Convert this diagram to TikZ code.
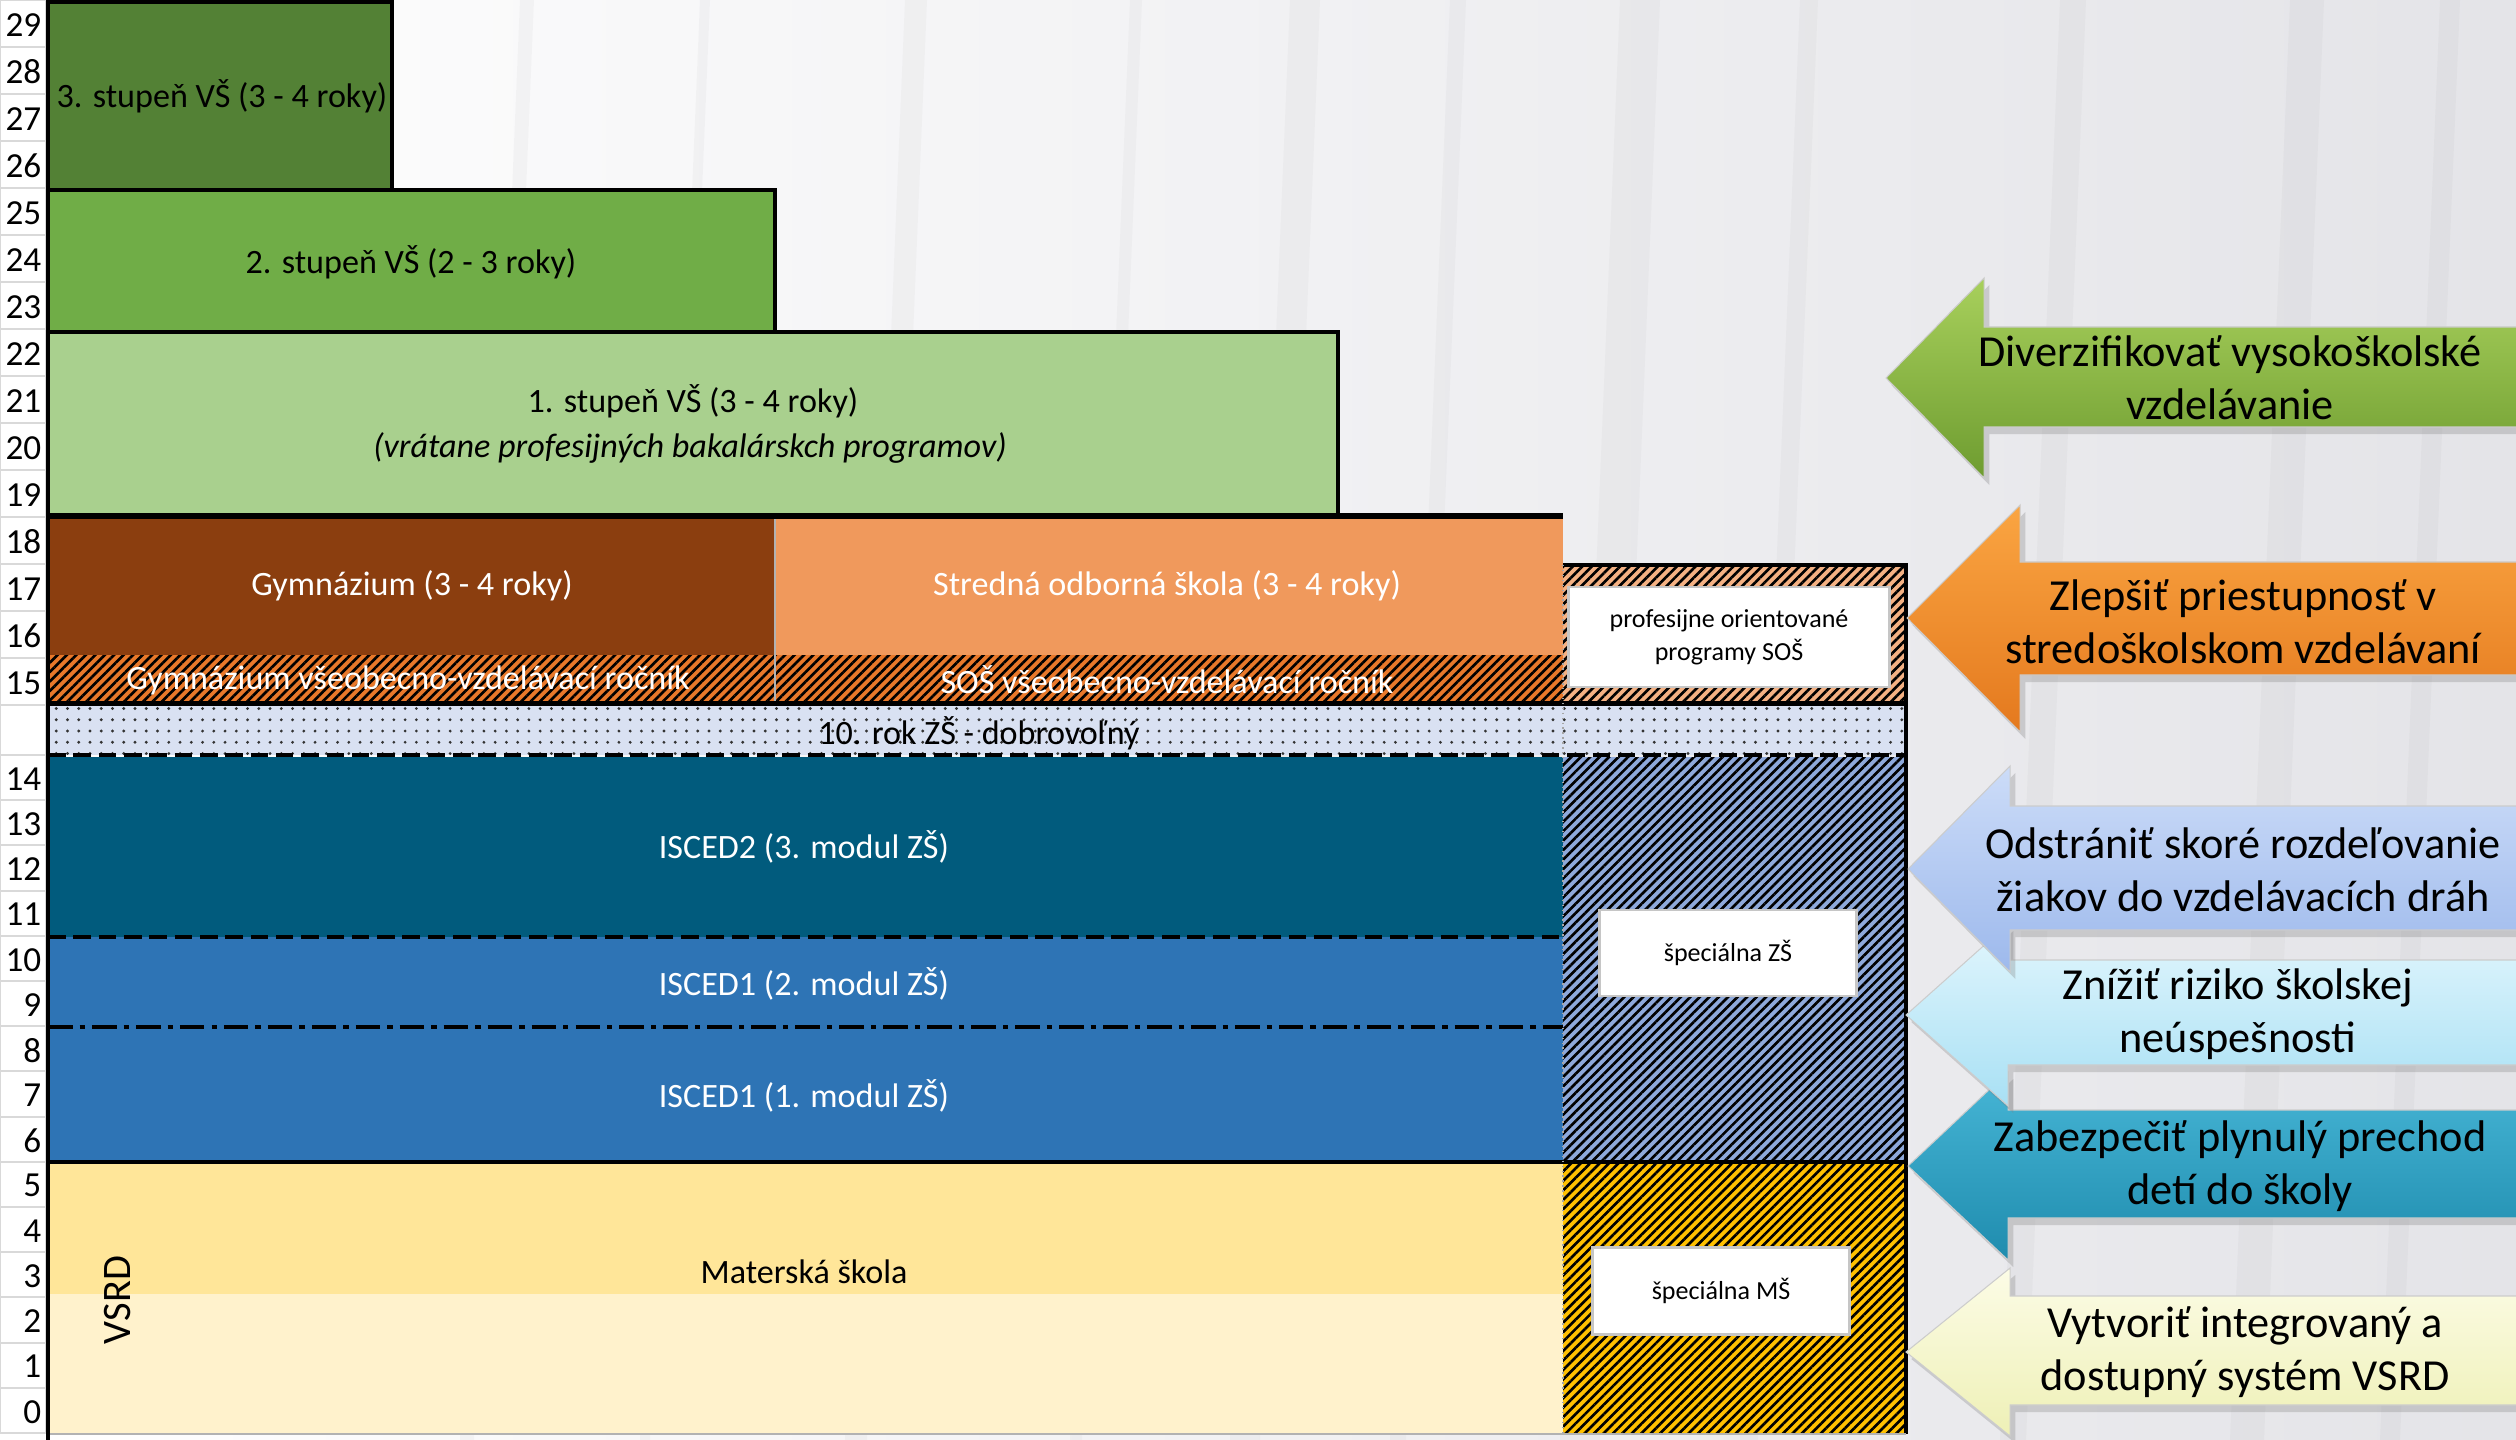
\documentclass[tikz,border=0pt]{standalone}
\usepackage{fontspec}
\setmainfont{Carlito}
\usetikzlibrary{patterns.meta,shadows}

\definecolor{vs3}{HTML}{538135}
\definecolor{vs2}{HTML}{70AD47}
\definecolor{vs1}{HTML}{A9D08E}
\definecolor{gym}{HTML}{8B3E0F}
\definecolor{sos}{HTML}{F0995C}
\definecolor{rocnik}{HTML}{E8782A}
\definecolor{profsos}{HTML}{F4B183}
\definecolor{rok10}{HTML}{D9E1F2}
\definecolor{isced2}{HTML}{015B7D}
\definecolor{isced1}{HTML}{2E74B5}
\definecolor{szs}{HTML}{8EA9DB}
\definecolor{ms1}{HTML}{FFE699}
\definecolor{ms2}{HTML}{FFF2CC}
\definecolor{sms}{HTML}{FFC000}
\definecolor{pozadie}{HTML}{E4E4E8}
\definecolor{zelh}{HTML}{A8D05C}
\definecolor{zeld}{HTML}{6E9C30}
\definecolor{oranh}{HTML}{FAA542}
\definecolor{orand}{HTML}{E4791E}
\definecolor{modh}{HTML}{CCDCF8}
\definecolor{modd}{HTML}{9DB9EC}
\definecolor{azuh}{HTML}{E2F6FD}
\definecolor{azud}{HTML}{A8E0F4}
\definecolor{tyrh}{HTML}{47B6D6}
\definecolor{tyrd}{HTML}{1F8CAE}
\definecolor{zlth}{HTML}{FCFCE6}
\definecolor{zltd}{HTML}{EEF0B6}

\begin{document}
\begin{tikzpicture}[x=0.01cm,y=-0.01cm]
\tikzstyle{every node} = [inner sep=0pt,align=center]
\tikzstyle{cislo} = [anchor=east,font=\fontsize{10}{12}\selectfont]
\tikzstyle{bunka} = [fill=white,draw=gray!30,line width=0.6pt]
\tikzstyle{popis} = [font=\fontsize{9.7}{12.2}\selectfont]
\tikzstyle{bpopis} = [popis,text=white]
\tikzstyle{okraj} = [draw=black,line width=1.1pt]
\tikzstyle{srafa} = [pattern={Lines[angle=45,distance=1.9pt,line width=0.75pt]},pattern color=black]
\tikzstyle{bodky} = [pattern={Dots[distance=3.2pt,radius=0.45pt]},pattern color=black!80]
\tikzstyle{ciarky} = [line width=1pt,dash pattern=on 5pt off 2.2pt]
\tikzstyle{ciarkobodka} = [line width=0.9pt,dash pattern=on 7pt off 2pt on 1.5pt off 2pt]
\tikzstyle{biely} = [fill=white,draw=gray!45,line width=0.8pt,font=\fontsize{7.4}{9.4}\selectfont]
\tikzstyle{sipka} = [draw=white!60!gray,line width=0.3pt,drop shadow={opacity=0.3,shadow xshift=1.5pt,shadow yshift=-2pt}]
\tikzstyle{ciel} = [font=\fontsize{12.6}{15}\selectfont]

\useasboundingbox (0,0) rectangle (2516,1440);
\clip (0,0) rectangle (2516,1440);

% pozadie s pruhmi
\shade[left color=white,right color=pozadie] (0,0) rectangle (2516,1440);
\foreach \x/\w in {520/14,700/10,905/22,1130/12,1290/30,1450/16,1620/40,1800/18,2060/26,2290/34,2440/20}
  \fill[gray,opacity=0.05] (\x,0) -- (\x+\w,0) -- (\x+\w-60,1440) -- (\x-60,1440) -- cycle;

% os s rokmi
\foreach \r in {15,...,29}{
  \pgfmathsetmacro\yt{(29-\r)*47}
  \draw[bunka] (0,\yt) rectangle (46,\yt+47);
  \node[cislo] (r\r) at (42,\yt+25) {\r};
}
\draw[bunka] (0,705) rectangle (46,755);
\foreach \r in {0,...,14}{
  \pgfmathsetmacro\yt{755+(14-\r)*45.2}
  \draw[bunka] (0,\yt) rectangle (46,\yt+45.2);
  \node[cislo] (r\r) at (42,\yt+24) {\r};
}

% vysoke skoly
\filldraw[okraj,fill=vs3] (48,2) rectangle (392,190);
\filldraw[okraj,fill=vs2] (48,190) rectangle (775,332);
\filldraw[okraj,fill=vs1] (48,332) rectangle (1338,515);
\node[popis] (vs3) at (222,96) {3. stupeň VŠ (3 - 4 roky)};
\node[popis] (vs2) at (411,262) {2. stupeň VŠ (2 - 3 roky)};
\node[popis] (vs1) at (693,401) {1. stupeň VŠ (3 - 4 roky)};
\node[popis,font=\fontsize{9.7}{12.2}\selectfont\itshape] (vs1b) at (690,448) {(vrátane profesijných bakalárskch programov)};

% stredne skoly
\fill[gym] (48,518) rectangle (775,655);
\fill[sos] (775,518) rectangle (1563,655);
\fill[rocnik] (48,655) rectangle (1563,703);
\fill[srafa] (48,655) rectangle (1563,703);
\fill[profsos] (1563,565) rectangle (1906,703);
\fill[srafa] (1563,565) rectangle (1906,703);
\draw[gray!60,line width=0.4pt] (775,518) -- (775,703);
\draw[line width=1.8pt] (48,516) -- (1563,516);
\draw[line width=1.2pt] (1563,565) -- (1906,565) -- (1906,703);
\node[bpopis] (gym) at (412,586) {Gymnázium (3 - 4 roky)};
\node[bpopis] (sos) at (1167,586) {Stredná odborná škola (3 - 4 roky)};
\node[bpopis] (gymr) at (408,680) {Gymnázium všeobecno-vzdelávací ročník};
\node[bpopis] (sosr) at (1167,680) {SOŠ všeobecno-vzdelávací ročník};
\node[biely,minimum width=3.21cm,minimum height=1cm] (prof) at (1729,637) {profesijne orientované\\programy SOŠ};

% 10. rok
\draw[line width=1.8pt] (48,704) -- (1906,704);
\fill[rok10] (48,706) rectangle (1906,755);
\fill[bodky] (48,706) rectangle (1906,755);
\node[popis] (rok10) at (979,733) {10. rok ZŠ - dobrovoľný};

% zakladna skola
\fill[isced2] (48,757) rectangle (1563,937);
\fill[isced1] (48,937) rectangle (1563,1162);
\fill[szs] (1563,757) rectangle (1906,1162);
\fill[srafa] (1563,757) rectangle (1906,1162);
\draw[ciarky] (48,755) -- (1906,755);
\draw[ciarky] (48,937) -- (1563,937);
\draw[ciarkobodka] (48,1027) -- (1563,1027);
\node[bpopis] (isced2) at (804,847) {ISCED2 (3. modul ZŠ)};
\node[bpopis] (modul2) at (804,984) {ISCED1 (2. modul ZŠ)};
\node[bpopis] (modul1) at (804,1096) {ISCED1 (1. modul ZŠ)};
\node[biely,minimum width=2.57cm,minimum height=0.86cm] (szs) at (1728,953) {špeciálna ZŠ};

% materska skola
\fill[ms1] (48,1163) rectangle (1563,1294);
\fill[ms2] (48,1294) rectangle (1563,1433);
\fill[sms] (1563,1163) rectangle (1906,1433);
\fill[srafa] (1563,1163) rectangle (1906,1433);
\draw[line width=1pt] (48,1162) -- (1906,1162);
\node[popis] (ms) at (804,1272) {Materská škola};
\node[font=\fontsize{11.5}{13}\selectfont,rotate=90] (vsrd) at (118,1300) {VSRD};
\node[biely,minimum width=2.57cm,minimum height=0.87cm] (sms) at (1721,1291) {špeciálna MŠ};

% okraje
\draw[gray!70,line width=0.4pt,densely dotted] (1563,565) -- (1563,1433);
\draw[line width=1.2pt] (1906,565) -- (1906,1434);
\draw[gray!60,line width=0.6pt] (48,1434) -- (1906,1434);
\draw[line width=1.4pt] (48,0) -- (48,1440);

% ciele - sipky
\path[sipka,top color=zlth,bottom color=zltd] (1906,1352) -- (2010,1268) -- (2010,1296) -- (2540,1296) -- (2540,1405) -- (2010,1405) -- (2010,1436) -- cycle;
\path[sipka,top color=tyrh,bottom color=tyrd] (1908,1166) -- (2008,1072) -- (2008,1110) -- (2540,1110) -- (2540,1218) -- (2008,1218) -- (2008,1260) -- cycle;
\path[sipka,top color=azuh,bottom color=azud] (1906,1015) -- (2008,924) -- (2008,960) -- (2540,960) -- (2540,1065) -- (2008,1065) -- (2008,1106) -- cycle;
\path[sipka,top color=modh,bottom color=modd] (1908,869) -- (2010,766) -- (2010,806) -- (2540,806) -- (2540,930) -- (2010,930) -- (2010,972) -- cycle;
\path[sipka,top color=oranh,bottom color=orand] (1907,618) -- (2020,505) -- (2020,562) -- (2540,562) -- (2540,675) -- (2020,675) -- (2020,732) -- cycle;
\path[sipka,top color=zelh,bottom color=zeld] (1886,378) -- (1984,278) -- (1984,327) -- (2540,327) -- (2540,427) -- (1984,427) -- (1984,478) -- cycle;

\node[ciel] (c1) at (2230,378) {Diverzifikovať vysokoškolské\\vzdelávanie};
\node[ciel] (c2) at (2243,622) {Zlepšiť priestupnosť v\\stredoškolskom vzdelávaní};
\node[ciel] (c3) at (2243,870) {Odstrániť skoré rozdeľovanie\\žiakov do vzdelávacích dráh};
\node[ciel] (c4) at (2238,1014) {Znížiť riziko školskej\\neúspešnosti};
\node[ciel] (c5) at (2240,1166) {Zabezpečiť plynulý prechod\\detí do školy};
\node[ciel] (c6) at (2245,1352) {Vytvoriť integrovaný a\\dostupný systém VSRD};
\end{tikzpicture}
\end{document}
